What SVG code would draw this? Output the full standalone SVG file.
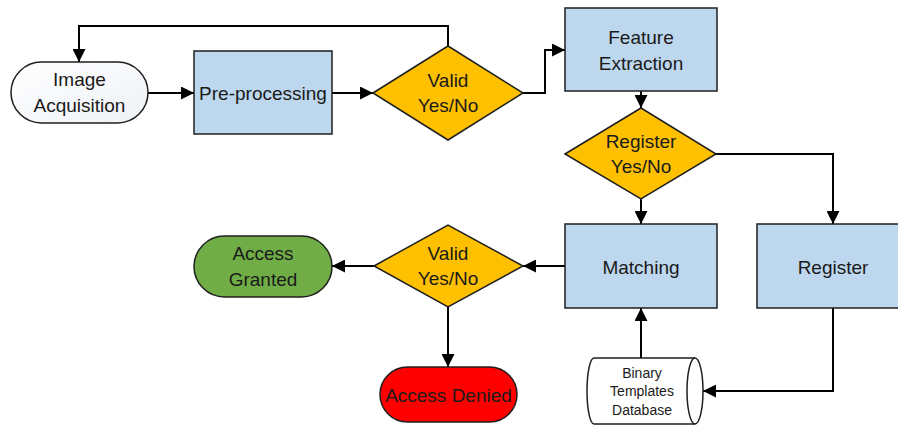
<svg xmlns="http://www.w3.org/2000/svg" width="898" height="425" viewBox="0 0 898 425">
<defs>
<style>
.box{fill:#BDD7EE;stroke:#1f1f1f;stroke-width:1.5}
.dia{fill:#FFC000;stroke:#1f1f1f;stroke-width:1.5}
.term{stroke:#1f1f1f;stroke-width:1.5}
.t{font-family:"Liberation Sans",Arial,sans-serif;font-size:19px;fill:#1a1a1a;text-anchor:middle}
.s{font-family:"Liberation Sans",Arial,sans-serif;font-size:14px;fill:#1a1a1a;text-anchor:middle}
.c{fill:none;stroke:#000;stroke-width:2}
</style>
<linearGradient id="g1" x1="0" y1="0" x2="1" y2="1">
<stop offset="0" stop-color="#ffffff"/>
<stop offset="1" stop-color="#eef1f6"/>
</linearGradient>
<marker id="ah" markerUnits="userSpaceOnUse" markerWidth="13" markerHeight="13" viewBox="0 0 13 13" refX="13" refY="6.5" orient="auto">
<path d="M0,0 L13,6.5 L0,13 Z" fill="#000"/>
</marker>
</defs>
<g id="connectors">
<path class="c" d="M148,93 L194,93" marker-end="url(#ah)"/>
<path class="c" d="M332,93 L373,93" marker-end="url(#ah)"/>
<path class="c" d="M448,46 L448,26 L79,26 L79,62" marker-end="url(#ah)"/>
<path class="c" d="M523,93 L545,93 L545,50 L565,50" marker-end="url(#ah)"/>
<path class="c" d="M641,91 L641,108" marker-end="url(#ah)"/>
<path class="c" d="M716,154 L833,154 L833,224" marker-end="url(#ah)"/>
<path class="c" d="M641,199 L641,224" marker-end="url(#ah)"/>
<path class="c" d="M565,266 L523,266" marker-end="url(#ah)"/>
<path class="c" d="M374,266 L332,266" marker-end="url(#ah)"/>
<path class="c" d="M448,307 L448,367" marker-end="url(#ah)"/>
<path class="c" d="M641,358 L641,308" marker-end="url(#ah)"/>
<path class="c" d="M833,308 L833,391 L703,391" marker-end="url(#ah)"/>
</g>
<g id="image-acquisition">
<rect class="term" x="11" y="62" width="137" height="61" rx="30.5" fill="url(#g1)"/>
<text class="t" x="79.5" y="86">Image</text>
<text class="t" x="79.5" y="112">Acquisition</text>
</g>
<g id="pre-processing">
<rect class="box" x="194" y="51" width="138" height="83"/>
<text class="t" x="263" y="100">Pre-processing</text>
</g>
<g id="valid1">
<polygon class="dia" points="373,93 448,46 523,93 448,140"/>
<text class="t" x="448" y="87">Valid</text>
<text class="t" x="448" y="112">Yes/No</text>
</g>
<g id="feature-extraction">
<rect class="box" x="565" y="8" width="152" height="83"/>
<text class="t" x="641" y="44">Feature</text>
<text class="t" x="641" y="70">Extraction</text>
</g>
<g id="register-decision">
<polygon class="dia" points="565,154 641,108 716,154 641,199"/>
<text class="t" x="641" y="148">Register</text>
<text class="t" x="641" y="173">Yes/No</text>
</g>
<g id="matching">
<rect class="box" x="565" y="224" width="152" height="84"/>
<text class="t" x="641" y="274">Matching</text>
</g>
<g id="register">
<rect class="box" x="757" y="224" width="143" height="84"/>
<text class="t" x="833" y="274">Register</text>
</g>
<g id="valid2">
<polygon class="dia" points="374,266 448,225 523,266 448,307"/>
<text class="t" x="448" y="260">Valid</text>
<text class="t" x="448" y="285">Yes/No</text>
</g>
<g id="access-granted">
<rect class="term" x="194" y="236" width="138" height="61" rx="30.5" fill="#70AD47"/>
<text class="t" x="263" y="260">Access</text>
<text class="t" x="263" y="286">Granted</text>
</g>
<g id="access-denied">
<rect class="term" x="380" y="367" width="137" height="55" rx="27.5" fill="#FF0000"/>
<text class="t" x="448.5" y="402">Access Denied</text>
</g>
<g id="database">
<path d="M594,358 L695,358 A8,33 0 0 1 695,424 L594,424 A7,33 0 0 1 594,358 Z" fill="#fff" stroke="#1f1f1f" stroke-width="1.5"/>
<path d="M695,358 A8,33 0 0 0 695,424" fill="none" stroke="#1f1f1f" stroke-width="1.5"/>
<text class="s" x="642" y="378">Binary</text>
<text class="s" x="642" y="396">Templates</text>
<text class="s" x="642" y="415">Database</text>
</g>
</svg>
